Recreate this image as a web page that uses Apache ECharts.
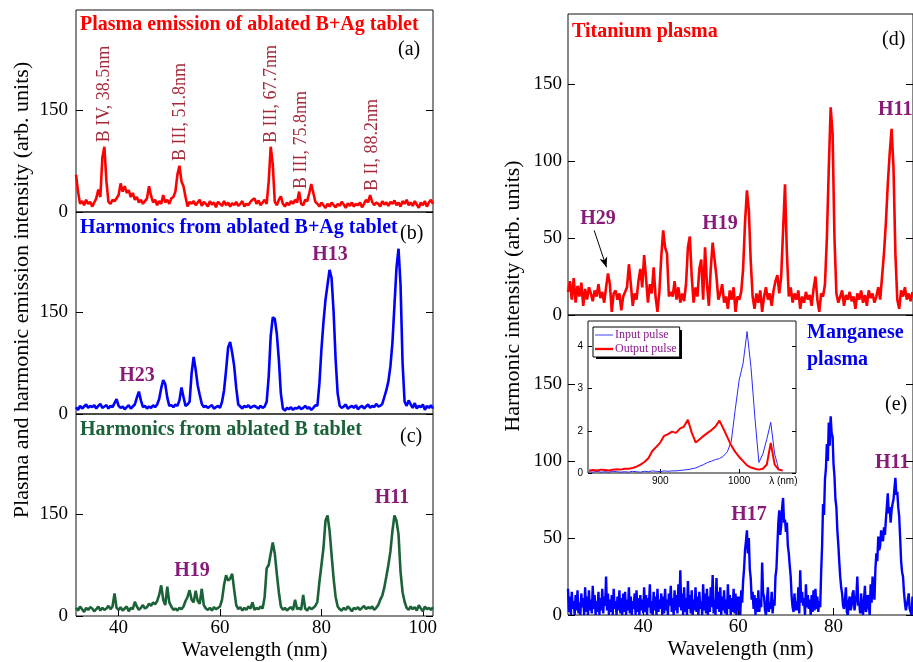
<!DOCTYPE html>
<html><head><meta charset="utf-8">
<script src="https://cdn.jsdelivr.net/npm/echarts@6/dist/echarts.min.js"></script>
<style>html,body{margin:0;padding:0;background:#fff}#c{width:913px;height:662px}</style>
</head><body><div id="c"></div><script>
// ---- sampling grids of the spectra (nm) ----
const leftStartNm = 31.6, leftStepNm = 0.4;
const rightStartNm = 24.2, titaniumStepNm = 0.4, manganeseStepNm = 0.2;
const insetStartNm = 810, insetStepNm = 5;

// (a) plasma emission of ablated B+Ag tablet
const plasmaBAg = [
 55,30,12,16,10,18,12,15,8,14,
 20,33,22,80,96,45,15,12,18,16,
 20,25,42,30,38,28,32,22,28,18,
 22,14,18,12,16,20,38,24,14,18,
 10,16,12,25,14,18,12,20,22,30,
 55,68,45,38,22,8,15,12,16,10,
 14,18,9,15,12,8,16,11,14,7,
 15,12,9,16,10,14,8,13,10,15,
 9,12,16,8,12,10,15,18,20,12,
 17,10,14,18,12,45,96,70,15,10,
 18,23,12,8,14,10,16,12,18,14,
 30,12,10,18,16,28,41,28,15,12,
 8,14,10,6,12,8,14,10,7,12,
 9,15,11,6,13,9,14,8,12,10,
 14,7,12,18,14,25,15,10,14,12,
 8,16,11,14,9,15,12,17,10,14,
 8,16,12,18,10,14,9,16,11,6,
 14,10,16,8,14,18,12];
// (b) harmonics from ablated B+Ag tablet
const harmBAg = [
 10,6,12,8,11,14,9,12,10,13,
 8,12,15,9,11,13,8,12,10,16,
 22,12,9,11,7,10,13,8,11,14,
 24,33,20,10,12,8,11,9,13,10,
 14,22,38,50,44,24,12,13,10,14,
 12,20,39,25,12,14,18,60,84,65,
 42,28,15,10,12,9,11,13,8,10,
 12,9,18,35,65,98,106,90,70,38,
 14,11,8,12,10,13,9,11,12,10,
 8,12,9,11,18,55,115,142,140,118,
 80,30,8,5,9,7,10,6,9,8,
 11,7,9,12,8,10,6,9,13,12,
 45,95,135,168,190,212,200,150,80,30,
 12,9,11,14,8,10,12,9,13,7,
 10,12,8,11,14,9,12,10,15,11,
 12,15,25,35,48,70,105,160,215,243,
 190,75,18,12,20,14,9,16,8,12,
 10,14,6,12,9,13,8];
// (c) harmonics from ablated B tablet
const harmB = [
 12,8,14,10,6,12,9,13,11,7,
 10,14,8,12,9,11,15,10,14,33,
 12,9,13,8,11,14,7,12,10,21,
 14,9,12,16,11,13,18,15,20,17,
 22,31,45,24,16,43,20,14,9,11,
 8,12,10,14,22,28,38,24,20,37,
 22,18,40,16,11,9,12,8,13,10,
 12,14,24,46,60,52,55,62,38,16,
 10,13,8,12,9,14,11,20,9,12,
 10,14,11,28,70,75,92,108,92,62,
 35,14,9,12,8,11,13,9,24,10,
 12,9,31,11,8,13,10,12,15,21,
 50,75,100,140,148,126,90,55,28,14,
 10,8,12,9,14,11,7,12,10,13,
 9,12,15,10,13,11,14,9,12,16,
 24,30,42,58,75,95,125,148,140,120,
 65,35,21,12,9,14,10,13,8,16,
 11,7,14,10,12,9,13];
// (d) titanium plasma (0.4 nm sampling)
const titanium = [
 15,22,10,24,8,19,12,21,6,17,
 10,18,14,9,16,12,20,11,15,8,
 18,27,20,2,14,16,10,14,3,12,
 15,18,33,20,6,14,10,22,30,18,
 39,24,8,20,14,31,12,2,15,38,
 55,44,40,12,15,12,22,10,18,8,
 14,9,20,44,51,25,8,18,12,30,
 36,10,44,20,6,30,47,48,25,10,
 14,20,8,12,4,16,10,18,2,12,
 10,15,30,60,81,68,35,12,4,14,
 8,16,2,12,18,10,14,6,16,22,
 26,14,25,55,85,40,12,18,8,14,
 10,16,4,12,8,15,10,13,6,17,
 25,10,2,14,12,20,50,95,135,118,
 50,14,8,12,16,6,13,10,15,9,
 12,4,14,10,16,8,13,6,16,11,
 14,8,12,18,10,25,40,60,85,105,
 121,96,40,10,4,16,12,18,10,14,
 9,15];
// (e) manganese plasma (0.2 nm sampling)
const manganese = [
 17,2,12,0,15,4,9,0,13,3,16,1,8,0,14,5,11,0,18,2,
 12,0,16,3,10,1,19,4,13,0,9,2,15,0,11,3,17,1,12,6,
 25,3,14,0,10,2,13,0,17,4,9,0,12,3,16,1,11,0,14,2,
 15,0,10,3,18,1,12,0,9,4,14,0,16,2,11,0,13,3,10,1,
 18,2,13,0,11,5,20,1,9,0,15,3,12,0,17,2,10,4,14,0,
 12,1,17,3,10,0,14,6,19,2,11,0,16,3,13,1,20,5,29,3,
 14,0,18,2,11,0,22,4,13,1,16,0,10,3,18,2,12,0,15,4,
 9,0,20,3,14,1,17,0,12,2,18,5,26,1,10,0,24,4,15,2,
 18,0,12,3,16,1,10,0,20,4,13,0,11,2,17,1,14,0,12,3,
 12,0,16,8,22,30,42,48,55,40,50,30,24,10,15,4,13,0,11,2,
 16,2,10,5,34,14,12,3,0,9,18,2,8,4,15,1,10,6,25,30,
 45,60,68,52,58,70,76,60,62,54,60,45,40,32,25,12,5,2,14,3,
 9,3,18,1,29,8,15,6,11,0,20,5,13,4,10,0,13,2,16,3,
 17,4,12,2,9,5,28,45,72,65,88,95,111,100,125,110,129,118,116,98,
 90,75,70,55,46,35,25,18,14,6,4,10,18,2,0,9,12,3,6,14,
 16,3,2,12,25,6,8,1,14,4,0,10,19,2,5,13,12,0,20,8,
 25,14,10,30,40,35,51,42,45,55,50,48,57,52,62,70,79,66,70,60,
 68,72,75,82,89,78,80,70,64,50,35,28,25,15,8,3,3,10,14,4,
 5,0,12];
// inset: driving pulse spectra
const inputPulse = [
 1.03,1.02,1.04,1.02,1.03,1.02,1.04,1.03,1.02,1.03,
 1.02,1.04,1.03,1.02,1.04,1.03,1.05,1.04,1.03,1.05,
 1.04,1.05,1.05,1.06,1.07,1.08,1.1,1.12,1.16,1.2,
 1.25,1.28,1.32,1.34,1.4,1.5,1.75,2.5,3.2,3.6,
 4.35,3.5,2.3,1.25,1.45,1.8,2.2,1.45,1.1,1.05];
const outputPulse = [
 1.06,1.07,1.06,1.08,1.07,1.06,1.08,1.09,1.08,1.1,
 1.1,1.12,1.15,1.2,1.26,1.35,1.52,1.62,1.72,1.88,
 1.92,1.98,1.95,2.05,2.1,2.26,1.95,1.72,1.8,1.88,
 1.95,2.02,2.1,2.24,2.05,1.85,1.65,1.5,1.38,1.28,
 1.18,1.13,1.1,1.08,1.1,1.2,1.71,1.2,1.08,1.06];

// ---- ticks ----
const leftXTicks = [40, 60, 80, 100];
const leftYTicks = [0, 150];
const rightXTicks = [40, 60, 80];
const rightYTicks = [0, 50, 100, 150];
const insetXTicks = [900, 1000];
const insetXLabelValues = [900, 1000, 1056];
const insetXLabelTexts = ['900', '1000', 'λ (nm)'];
const insetYTickValues = [1, 2, 3, 4];
const insetYTickTexts = ['0', '2', '3', '4'];
const h29Arrow = [[29.7, 55], [32.3, 31]];

const SERIF = "'Liberation Serif','Times New Roman',serif";
const SANS = "'Liberation Sans',Arial,sans-serif";
const PURPLE = '#881a78';
const BROWN = '#a52a3a';

function toPairs(start, step, values) {
  return values.map((v, i) => [Math.round((start + i * step) * 100) / 100, v]);
}

const gridBase = {show: true, borderColor: '#111', borderWidth: 1, backgroundColor: 'transparent'};
const grids = [
  {left: 76, top: 10, width: 357, height: 202},
  {left: 76, top: 212, width: 357, height: 202},
  {left: 76, top: 414, width: 357, height: 202},
  {left: 568, top: 14, width: 350, height: 301},
  {left: 568, top: 315, width: 350, height: 300},
  {left: 588, top: 321, width: 208, height: 152, backgroundColor: '#fff'}
].map(g => Object.assign({}, gridBase, g));

const hidden = {axisLine: {show: false}, axisTick: {show: false}, axisLabel: {show: false}, splitLine: {show: false}};
function xAxisHidden(gi, min, max) { return Object.assign({type: 'value', gridIndex: gi, min, max}, hidden); }
function xAxisLabeled(gi, min, max, ticks) {
  return {type: 'value', gridIndex: gi, min, max,
    axisLine: {show: false}, splitLine: {show: false},
    axisTick: {show: true, inside: true, length: 7, customValues: ticks, lineStyle: {color: '#000'}},
    axisLabel: {show: true, customValues: ticks, fontFamily: SERIF, fontSize: 19, color: '#000', margin: 3},
    name: 'Wavelength (nm)', nameLocation: 'middle', nameGap: 24,
    nameTextStyle: {fontFamily: SERIF, fontSize: 21, color: '#000'}};
}
function yAxisLeft(gi, min, max, ticks, margin) {
  return {type: 'value', gridIndex: gi, min, max, position: 'left',
    axisLine: {show: false}, splitLine: {show: false},
    axisTick: {show: true, inside: true, length: 7, customValues: ticks, lineStyle: {color: '#000'}},
    axisLabel: {show: true, customValues: ticks, fontFamily: SERIF, fontSize: 19, color: '#000', margin}};
}
function yAxisRight(gi, min, max, ticks, len) {
  return {type: 'value', gridIndex: gi, min, max, position: 'right',
    axisLine: {show: false}, splitLine: {show: false}, axisLabel: {show: false},
    axisTick: {show: true, inside: true, length: len, customValues: ticks, lineStyle: {color: '#000'}}};
}

const xAxes = [
  xAxisHidden(0, 31.6, 102),
  xAxisHidden(1, 31.6, 102),
  xAxisLabeled(2, 31.6, 102, leftXTicks),
  xAxisHidden(3, 24.2, 96.7),
  xAxisLabeled(4, 24.2, 96.7, rightXTicks),
  {type: 'value', gridIndex: 5, min: 808.5, max: 1072,
    axisLine: {show: false}, splitLine: {show: false},
    axisTick: {show: true, inside: true, length: 4, customValues: insetXTicks, lineStyle: {color: '#000'}},
    axisLabel: {show: true, customValues: insetXLabelValues, fontFamily: SANS, fontSize: 10, color: '#000', margin: 3,
      formatter: v => insetXLabelTexts[insetXLabelValues.indexOf(v)]}}
];
const yAxes = [
  yAxisLeft(0, 0, 297, leftYTicks, 8),
  yAxisLeft(1, 0, 297, leftYTicks, 8),
  yAxisLeft(2, 0, 297, leftYTicks, 8),
  yAxisRight(0, 0, 297, leftYTicks, 7),
  yAxisRight(1, 0, 297, leftYTicks, 7),
  yAxisRight(2, 0, 297, leftYTicks, 7),
  yAxisLeft(3, 0, 195.7, rightYTicks, 6),
  yAxisLeft(4, 0, 194.8, rightYTicks, 6),
  yAxisRight(3, 0, 195.7, rightYTicks, 7),
  yAxisRight(4, 0, 194.8, rightYTicks, 7),
  {type: 'value', gridIndex: 5, min: 1.0, max: 4.6, position: 'left',
    axisLine: {show: false}, splitLine: {show: false},
    axisTick: {show: true, inside: true, length: 4, customValues: insetYTickValues, lineStyle: {color: '#000'}},
    axisLabel: {show: true, customValues: insetYTickValues, fontFamily: SANS, fontSize: 10, color: '#000', margin: 5,
      formatter: v => insetYTickTexts[insetYTickValues.indexOf(v)]}},
  yAxisRight(5, 1.0, 4.6, insetYTickValues, 4)
];

function lineSeries(name, xi, yi, data, color, width) {
  return {name, type: 'line', xAxisIndex: xi, yAxisIndex: yi, data, symbol: 'none', showSymbol: false,
    lineStyle: {color, width}, itemStyle: {color}, animation: false, silent: true, z: 3};
}

const series = [
  lineSeries('a', 0, 0, toPairs(leftStartNm, leftStepNm, plasmaBAg), '#ff0000', 2.6),
  lineSeries('b', 1, 1, toPairs(leftStartNm, leftStepNm, harmBAg), '#0000ff', 2.6),
  lineSeries('c', 2, 2, toPairs(leftStartNm, leftStepNm, harmB), '#1b6238', 2.6),
  Object.assign(lineSeries('d', 3, 6, toPairs(rightStartNm, titaniumStepNm, titanium), '#ff0000', 2.6), {
    markLine: {silent: true, animation: false, symbol: ['none', 'arrow'], symbolSize: [6, 10],
      label: {show: false}, lineStyle: {color: '#000', width: 1, type: 'solid'},
      data: [[{coord: h29Arrow[0]}, {coord: h29Arrow[1]}]]}
  }),
  lineSeries('e', 4, 7, toPairs(rightStartNm, manganeseStepNm, manganese), '#0000ff', 2.4),
  Object.assign(lineSeries('Input pulse', 5, 10, toPairs(insetStartNm, insetStepNm, inputPulse), '#2a2aff', 1), {z: 5}),
  Object.assign(lineSeries('Output pulse', 5, 10, toPairs(insetStartNm, insetStepNm, outputPulse), '#ff0000', 2), {z: 5})
];

// ---- text annotations ----
function txt(text, x, y, opt) {
  const o = Object.assign({size: 20, bold: true, color: '#000', align: 'left', rot: 0}, opt || {});
  return {type: 'text', x, y, rotation: o.rot, z: 10, silent: true,
    style: {text, fill: o.color, font: (o.bold ? 'bold ' : '') + o.size + 'px ' + SERIF,
      textAlign: o.align, align: o.align, textVerticalAlign: 'middle', verticalAlign: 'middle'}};
}
const R = Math.PI / 2;
const graphics = [
  txt('Plasma emission of ablated B+Ag tablet', 80, 25, {color: '#ff0000'}),
  txt('(a)', 398, 50, {bold: false}),
  txt('B IV, 38.5nm', 104, 94, {bold: false, size: 18, color: BROWN, align: 'center', rot: R}),
  txt('B III, 51.8nm', 180, 112, {bold: false, size: 18, color: BROWN, align: 'center', rot: R}),
  txt('B III, 67.7nm', 271, 94, {bold: false, size: 18, color: BROWN, align: 'center', rot: R}),
  txt('B III, 75.8nm', 301, 140, {bold: false, size: 18, color: BROWN, align: 'center', rot: R}),
  txt('B II, 88.2nm', 372, 145, {bold: false, size: 18, color: BROWN, align: 'center', rot: R}),
  txt('Harmonics from ablated B+Ag tablet', 80, 228, {color: '#0000ee'}),
  txt('(b)', 400, 234, {bold: false}),
  txt('H13', 330, 255, {color: PURPLE, align: 'center'}),
  txt('H23', 137, 376, {color: PURPLE, align: 'center'}),
  txt('Harmonics from ablated B tablet', 80, 430, {color: '#1b6238'}),
  txt('(c)', 400, 437, {bold: false}),
  txt('H11', 392, 498, {color: PURPLE, align: 'center'}),
  txt('H19', 192, 571, {color: PURPLE, align: 'center'}),
  txt('Plasma and harmonic emission intensity (arb. units)', 22, 290, {bold: false, size: 22, align: 'center', rot: R}),
  txt('Titanium plasma', 572, 32, {color: '#ff0000'}),
  txt('(d)', 882, 40, {bold: false}),
  txt('H29', 598, 219, {color: PURPLE, align: 'center'}),
  txt('H19', 720, 224, {color: PURPLE, align: 'center'}),
  txt('H11', 878, 110, {color: PURPLE}),
  txt('Manganese', 807, 333, {color: '#0000ee'}),
  txt('plasma', 807, 360, {color: '#0000ee'}),
  txt('(e)', 885, 405, {bold: false}),
  txt('H17', 749, 515, {color: PURPLE, align: 'center'}),
  txt('H11', 875, 463, {color: PURPLE}),
  txt('Harmonic intensity (arb. units)', 513, 296, {bold: false, size: 22, align: 'center', rot: R}),
  // drop shadow of the inset legend box
  {type: 'rect', shape: {x: 596, y: 330, width: 86, height: 29}, style: {fill: '#000'}, z: 1, silent: true}
];

const chart = echarts.init(document.getElementById('c'), null, {renderer: 'canvas'});
chart.setOption({
  animation: false,
  backgroundColor: '#fff',
  grid: grids,
  xAxis: xAxes,
  yAxis: yAxes,
  legend: {
    data: [
      {name: 'Input pulse', icon: 'path://M0,0H20V1H0Z'},
      {name: 'Output pulse', icon: 'path://M0,0H20V2.6H0Z'}
    ],
    left: 593, top: 327, orient: 'vertical', symbolKeepAspect: true,
    itemWidth: 18, itemHeight: 7, itemGap: 2, padding: [2, 3, 2, 2],
    backgroundColor: '#fff', borderColor: '#000', borderWidth: 1, z: 6,
    textStyle: {fontFamily: SERIF, fontSize: 12, color: '#8b1a8b', padding: [0, 0, 0, -3]}, selectedMode: false
  },
  series,
  graphic: graphics
});
</script></body></html>
